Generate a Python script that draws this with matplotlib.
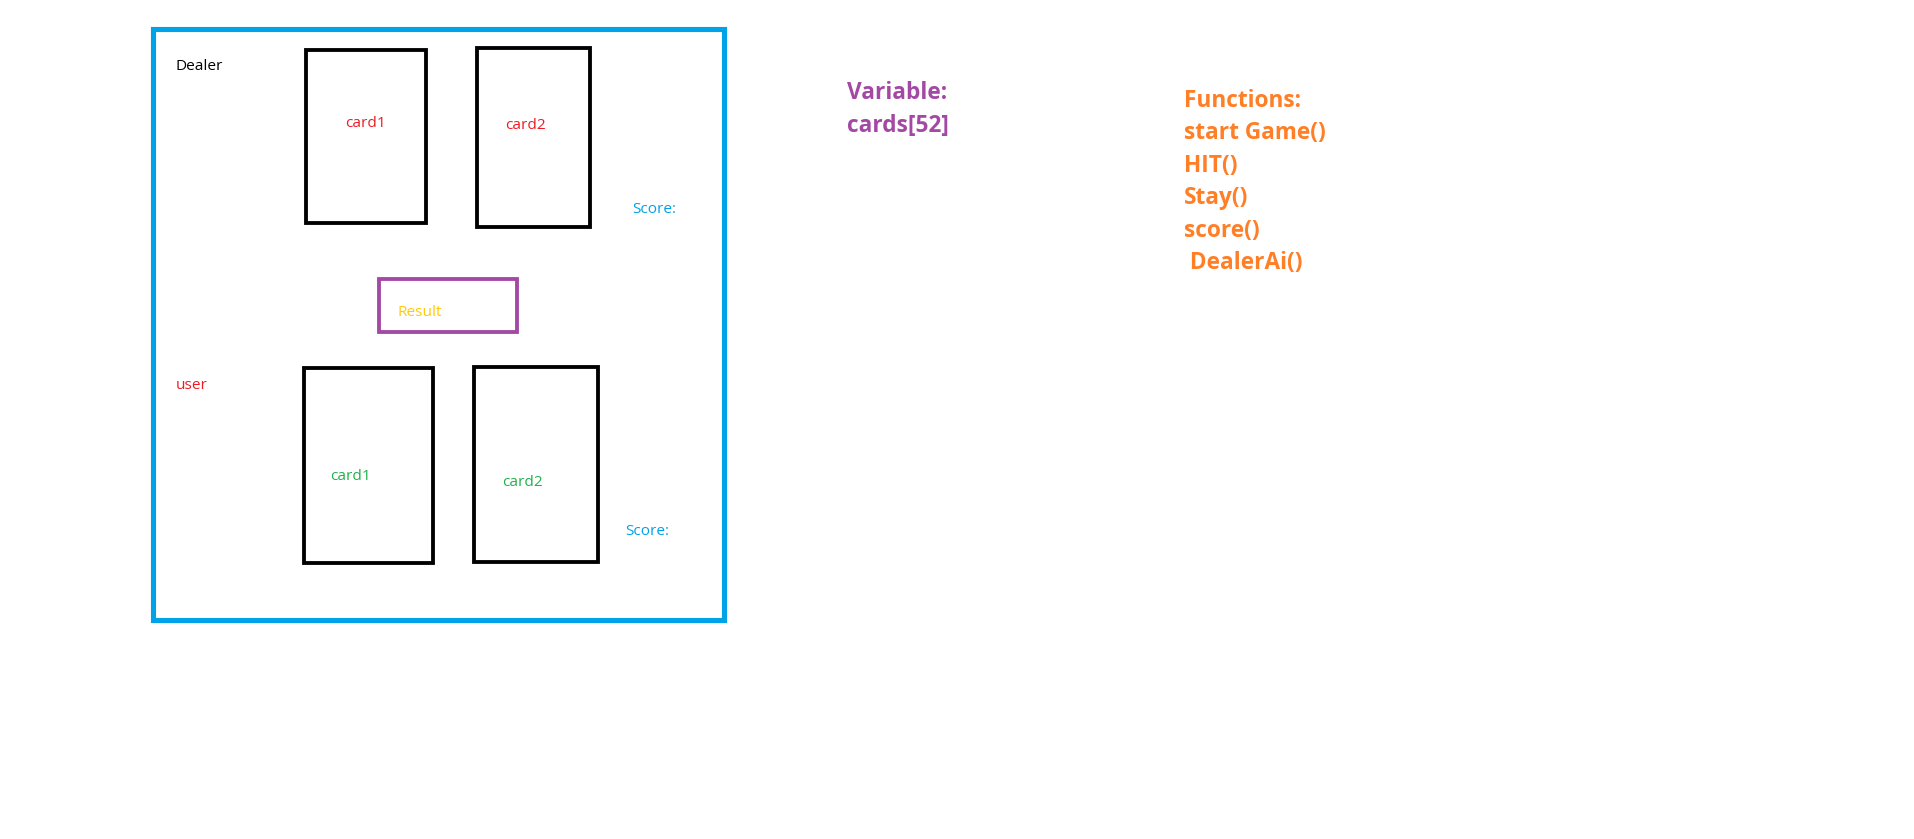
import matplotlib.pyplot as plt
from matplotlib.patches import Rectangle

# coordinates measured on a 1560-wide view of the picture
SCALE = 1914 / 1560

# boxes: (x, y, w, h, colour, linewidth)
boxes = [
    (125, 24, 465, 481, '#00a2e8', 4),
    (249, 41, 98, 141, 'black', 3),
    (389, 39, 92, 146, 'black', 3),
    (309, 227, 112, 44, '#a349a4', 3),
    (248, 300, 105, 159, 'black', 3),
    (386, 299, 101, 159, 'black', 3),
]

labels = [
    (143, 54, 'Dealer', 'black'),
    (281, 101, 'card1', '#ed1c24'),
    (412, 102, 'card2', '#ed1c24'),
    (515, 171, 'Score:', '#00a2e8'),
    (324, 255, 'Result', '#ffc90e'),
    (143, 314, 'user', '#ed1c24'),
    (269, 388, 'card1', '#22b14c'),
    (409, 393, 'card2', '#22b14c'),
    (510, 433, 'Score:', '#00a2e8'),
]

variable_lines = ['Variable:', 'cards[52]']
function_lines = ['Functions:', 'start Game()', 'HIT()', 'Stay()', 'score()', ' DealerAi()']

fig = plt.figure(figsize=(19.14, 8.39), dpi=100)
ax = fig.add_axes([0, 0, 1, 1])
ax.set_xlim(0, 1914 / SCALE)
ax.set_ylim(839 / SCALE, 0)
ax.axis('off')

for x, y, w, h, c, lw in boxes:
    ax.add_patch(Rectangle((x, y), w, h, fill=False, edgecolor=c,
                           linewidth=lw * 0.75 * SCALE))

for x, y, t, c in labels:
    ax.text(x, y, t, color=c, fontsize=9.5 * SCALE * 0.95, family='Open Sans',
            va='center', ha='left')

for i, t in enumerate(variable_lines):
    ax.text(690, 76 + i * 27, t, color='#a349a4', fontsize=14 * SCALE * 0.95,
            fontweight='bold', family='Open Sans', va='center', ha='left')

for i, t in enumerate(function_lines):
    ax.text(965, 82 + i * 26.5, t, color='#ff7f27', fontsize=14 * SCALE * 0.95,
            fontweight='bold', family='Open Sans', va='center', ha='left')

plt.savefig('out.png', dpi=100)
plt.close(fig)
